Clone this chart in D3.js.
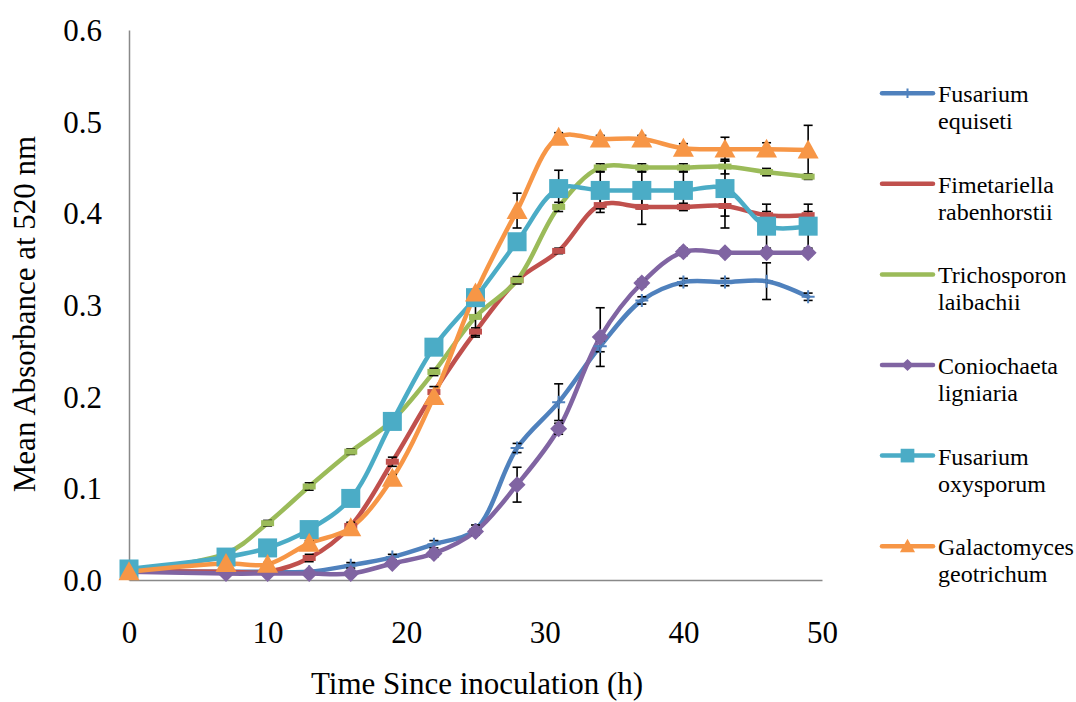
<!DOCTYPE html>
<html>
<head>
<meta charset="utf-8">
<script src="https://cdn.jsdelivr.net/npm/d3@7"></script>
<style>
  html, body { margin: 0; padding: 0; background: #fff; }
  svg { display: block; }
  svg text { font-family: "Liberation Serif", "Times New Roman", serif !important; fill: #000; }
</style>
</head>
<body>
<svg id="chart" width="1076" height="702"></svg>
<script>
// ---- data ----
const hours = [0, 7, 10, 13, 16, 19, 22, 25, 28, 31, 34, 37, 40, 43, 46, 49];
const seriesNames = ["Fusarium equiseti", "Fimetariella rabenhorstii", "Trichosporon laibachii",
                     "Coniochaeta ligniaria", "Fusarium oxysporum", "Galactomyces geotrichum"];
const fusariumEquiseti   = [0.010, 0.009, 0.009, 0.009, 0.016, 0.025, 0.039, 0.055, 0.144, 0.194, 0.255, 0.305, 0.325, 0.325, 0.326, 0.309];
const fimetariella       = [0.010, 0.009, 0.009, 0.024, 0.059, 0.129, 0.205, 0.271, 0.327, 0.359, 0.409, 0.407, 0.407, 0.408, 0.398, 0.398];
const trichosporon       = [0.010, 0.029, 0.062, 0.102, 0.140, 0.174, 0.227, 0.287, 0.327, 0.407, 0.450, 0.450, 0.450, 0.451, 0.445, 0.440];
const coniochaeta        = [0.009, 0.007, 0.007, 0.007, 0.007, 0.018, 0.029, 0.053, 0.104, 0.165, 0.265, 0.324, 0.358, 0.357, 0.357, 0.357];
const fusariumOxysporum  = [0.012, 0.025, 0.035, 0.055, 0.089, 0.173, 0.254, 0.308, 0.369, 0.427, 0.425, 0.425, 0.425, 0.427, 0.386, 0.386];
const galactomyces       = [0.009, 0.018, 0.017, 0.040, 0.057, 0.111, 0.200, 0.313, 0.403, 0.483, 0.481, 0.481, 0.471, 0.470, 0.470, 0.469];

const errEquiseti   = [0, 0, 0, 0, 0.003, 0.003, 0.004, 0.005, 0.005, 0.020, 0.006, 0.004, 0.004, 0.004, 0.020, 0.004];
const errFimetariella = [0, 0, 0, 0.004, 0.004, 0.005, 0.006, 0.004, 0.004, 0.003, 0.008, 0.019, 0.004, 0.024, 0.004, 0.004];
const errTrichosporon = [0, 0, 0.003, 0.004, 0.003, 0.003, 0.004, 0.022, 0.003, 0.005, 0.004, 0.004, 0.004, 0.008, 0.004, 0.003];
const errConiochaeta  = [0, 0, 0, 0, 0, 0.003, 0.004, 0.004, 0.019, 0.006, 0.032, 0.004, 0.004, 0.003, 0.003, 0.003];
const errOxysporum    = [0, 0.002, 0.002, 0.002, 0.002, 0.002, 0.003, 0.004, 0.006, 0.020, 0.020, 0.020, 0.020, 0.030, 0.024, 0.024];
const errGalactomyces = [0, 0.002, 0.002, 0.003, 0.003, 0.004, 0.004, 0.004, 0.019, 0.005, 0.004, 0.004, 0.005, 0.013, 0.007, 0.027];

const xTicks = [0, 10, 20, 30, 40, 50];
const yTicks = [0, 0.1, 0.2, 0.3, 0.4, 0.5, 0.6];
const xTitle = "Time Since inoculation (h)";
const yTitle = "Mean Absorbance at 520 nm";

const colors = ["#4F81BD", "#C0504D", "#9BBB59", "#8064A2", "#4BACC6", "#F79646"];
const markers = ["plus", "dash", "dash", "diamond", "square", "triangle"];
const allValues = [fusariumEquiseti, fimetariella, trichosporon, coniochaeta, fusariumOxysporum, galactomyces];
const allErrors = [errEquiseti, errFimetariella, errTrichosporon, errConiochaeta, errOxysporum, errGalactomyces];

const FONT = "'Liberation Serif', 'Times New Roman', serif";

// ---- layout ----
const svg = d3.select("#chart");
const x = d3.scaleLinear().domain([0, 50]).range([129, 822]);
const y = d3.scaleLinear().domain([0, 0.6]).range([580, 30]);

const series = seriesNames.map((name, i) => ({
  name, color: colors[i], marker: markers[i],
  points: hours.map((h, j) => ({ h, v: allValues[i][j], e: allErrors[i][j] }))
}));

// axes
const xAxis = svg.append("g").attr("transform", "translate(0,580)")
  .call(d3.axisBottom(x).tickValues(xTicks).tickSize(0).tickPadding(0).tickFormat(d3.format("d")));
xAxis.attr("font-family", FONT);
xAxis.select(".domain").attr("stroke", "#898989").attr("stroke-width", 1.5);
xAxis.selectAll("text").attr("font-size", 31).attr("dy", null).attr("y", 63).attr("fill", "#000");

const yAxis = svg.append("g").attr("transform", "translate(129,0)")
  .call(d3.axisLeft(y).tickValues(yTicks).tickSize(0).tickPadding(0).tickFormat(d3.format(".1f")));
yAxis.attr("font-family", FONT);
yAxis.select(".domain").attr("stroke", "#898989").attr("stroke-width", 1.5);
yAxis.selectAll("text").attr("font-size", 31).attr("x", -27).attr("dy", "0.34em").attr("fill", "#000");

// titles
svg.append("text").attr("x", 477).attr("y", 694).attr("text-anchor", "middle")
  .attr("font-family", FONT).attr("font-size", 31).text(xTitle);
svg.append("text").attr("transform", "translate(35,314) rotate(-90)").attr("text-anchor", "middle")
  .attr("font-family", FONT).attr("font-size", 31).text(yTitle);

// lines
const line = d3.line().x(d => x(d.h)).y(d => y(d.v)).curve(d3.curveCatmullRom.alpha(0.5));
svg.append("g").selectAll("path").data(series).join("path")
  .attr("d", s => line(s.points))
  .attr("fill", "none").attr("stroke", s => s.color).attr("stroke-width", 4.5)
  .attr("stroke-linejoin", "round").attr("stroke-linecap", "round");

// error bars
const eb = svg.append("g").attr("stroke", "#000").attr("stroke-width", 1.6);
series.forEach(s => {
  s.points.filter(p => p.e > 0).forEach(p => {
    const cx = x(p.h), y1 = y(p.v + p.e), y2 = y(p.v - p.e);
    eb.append("line").attr("x1", cx).attr("x2", cx).attr("y1", y1).attr("y2", y2);
    eb.append("line").attr("x1", cx - 4.5).attr("x2", cx + 4.5).attr("y1", y1).attr("y2", y1);
    eb.append("line").attr("x1", cx - 4.5).attr("x2", cx + 4.5).attr("y1", y2).attr("y2", y2);
  });
});

// markers
function drawMarker(g, type, cx, cy, color, scale) {
  const k = scale || 1;
  if (type === "plus") {
    g.append("path").attr("d", `M${cx - 6.5 * k},${cy}H${cx + 6.5 * k}M${cx},${cy - 6.5 * k}V${cy + 6.5 * k}`)
      .attr("stroke", color).attr("stroke-width", 2).attr("fill", "none");
  } else if (type === "dash") {
    g.append("rect").attr("x", cx - 6.5 * k).attr("y", cy - 3).attr("width", 13 * k).attr("height", 6)
      .attr("fill", color);
  } else if (type === "diamond") {
    const r = 8.5 * k;
    g.append("path").attr("d", `M${cx},${cy - r}L${cx + r},${cy}L${cx},${cy + r}L${cx - r},${cy}Z`).attr("fill", color);
  } else if (type === "square") {
    const r = 9.5 * k;
    g.append("rect").attr("x", cx - r).attr("y", cy - r).attr("width", 2 * r).attr("height", 2 * r).attr("fill", color);
  } else if (type === "triangle") {
    const r = 10.5 * k;
    g.append("path").attr("d", `M${cx},${cy - r}L${cx + r},${cy + r * 0.8}L${cx - r},${cy + r * 0.8}Z`).attr("fill", color);
  }
}
const mg = svg.append("g");
series.forEach(s => {
  s.points.forEach(p => drawMarker(mg, s.marker, x(p.h), y(p.v), s.color));
});

// legend
const legend = svg.append("g").attr("font-family", FONT);
series.forEach((s, i) => {
  const ly = 93.2 + i * 90.6;
  const g = legend.append("g");
  g.append("line").attr("x1", 882).attr("x2", 933).attr("y1", ly).attr("y2", ly)
    .attr("stroke", s.color).attr("stroke-width", 4.5).attr("stroke-linecap", "round");
  if (s.marker !== "dash") drawMarker(g, s.marker, 907.5, ly, s.color, 0.72);
  const words = s.name.split(" ");
  g.append("text").attr("x", 938).attr("y", ly + 9).attr("font-family", FONT).attr("font-size", 24).text(words[0]);
  g.append("text").attr("x", 938).attr("y", ly + 36).attr("font-family", FONT).attr("font-size", 24).text(words[1]);
});
</script>
</body>
</html>
